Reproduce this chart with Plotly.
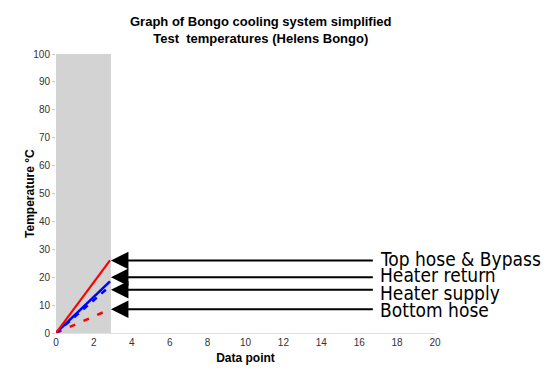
import plotly.graph_objects as go

# Data
x_points = [0, 1, 2, 2.85]
top_hose = [0, 9.1, 18.2, 26]
heater_return = [0, 6.5, 13, 18.5]
heater_supply = [0, 5.9, 11.8, 16.8]
bottom_hose = [0, 3, 6, 8.5]

shade_x = [0, 2.9]
arrow_labels = ["Top hose & Bypass", "Heater return", "Heater supply", "Bottom hose"]
arrow_y = [26, 20, 15.5, 8.5]
label_y = [26.5, 20.8, 14.5, 8.3]
arrow_tail_x = 16.8
arrow_head_x = 2.9

x_ticks = list(range(0, 21, 2))
y_ticks = list(range(0, 101, 10))

fig = go.Figure()

fig.add_shape(type="rect", xref="x", yref="y", x0=shade_x[0], x1=shade_x[1], y0=0, y1=100,
              fillcolor="#d3d3d3", line_width=0, layer="below")

fig.add_trace(go.Scatter(x=x_points, y=bottom_hose, mode="lines",
                         line=dict(color="#ff0000", width=2.5, dash="6px,9px"), name="Bottom hose"))
fig.add_trace(go.Scatter(x=x_points, y=heater_supply, mode="lines",
                         line=dict(color="#0000ff", width=2.5, dash="6px,6px"), name="Heater supply"))
fig.add_trace(go.Scatter(x=x_points, y=heater_return, mode="lines",
                         line=dict(color="#0000ff", width=2.5), name="Heater return"))
fig.add_trace(go.Scatter(x=x_points, y=top_hose, mode="lines",
                         line=dict(color="#ff0000", width=2.2), name="Top hose & Bypass"))

for lbl, ya, yl in zip(arrow_labels, arrow_y, label_y):
    fig.add_annotation(x=arrow_head_x, y=ya, ax=arrow_tail_x, ay=ya, xref="x", yref="y",
                       axref="x", ayref="y", showarrow=True, arrowhead=2, arrowsize=1.75,
                       arrowwidth=2, arrowcolor="black", text="", standoff=0)
    fig.add_annotation(x=arrow_tail_x, y=yl, xref="x", yref="y", text=lbl, showarrow=False,
                       xanchor="left", yanchor="middle", xshift=4,
                       font=dict(family="DejaVu Sans Condensed", size=19, color="black"))

# Title
fig.add_annotation(x=0.541, y=1.086, xref="paper", yref="paper", showarrow=False,
                   text="<b>Graph of Bongo cooling system simplified<br>Test  temperatures (Helens Bongo)</b>",
                   xanchor="center", yanchor="middle",
                   font=dict(family="Liberation Sans", size=13, color="black"))
# Y axis title
fig.add_annotation(x=-0.07, y=0.5, xref="paper", yref="paper", showarrow=False,
                   text="<b>Temperature °C</b>", textangle=-90,
                   xanchor="center", yanchor="middle",
                   font=dict(family="Liberation Sans", size=12, color="black"))

fig.update_layout(
    width=550, height=377,
    margin=dict(l=56, r=115, t=54, b=44),
    paper_bgcolor="white", plot_bgcolor="white",
    showlegend=False,
    font=dict(family="Liberation Sans", size=10, color="#333"),
)
fig.update_xaxes(range=[0, 20], tickvals=x_ticks, showgrid=False, zeroline=False,
                 showline=True, linecolor="#e0e0e0", linewidth=1, ticks="",
                 title=dict(text="<b>Data point</b>", font=dict(size=12, color="black"), standoff=6))
fig.update_yaxes(range=[0, 100], tickvals=y_ticks, showgrid=False, zeroline=False,
                 showline=False, ticks="outside", ticklen=3, tickcolor="#ccc")

fig.write_html("out.html")
